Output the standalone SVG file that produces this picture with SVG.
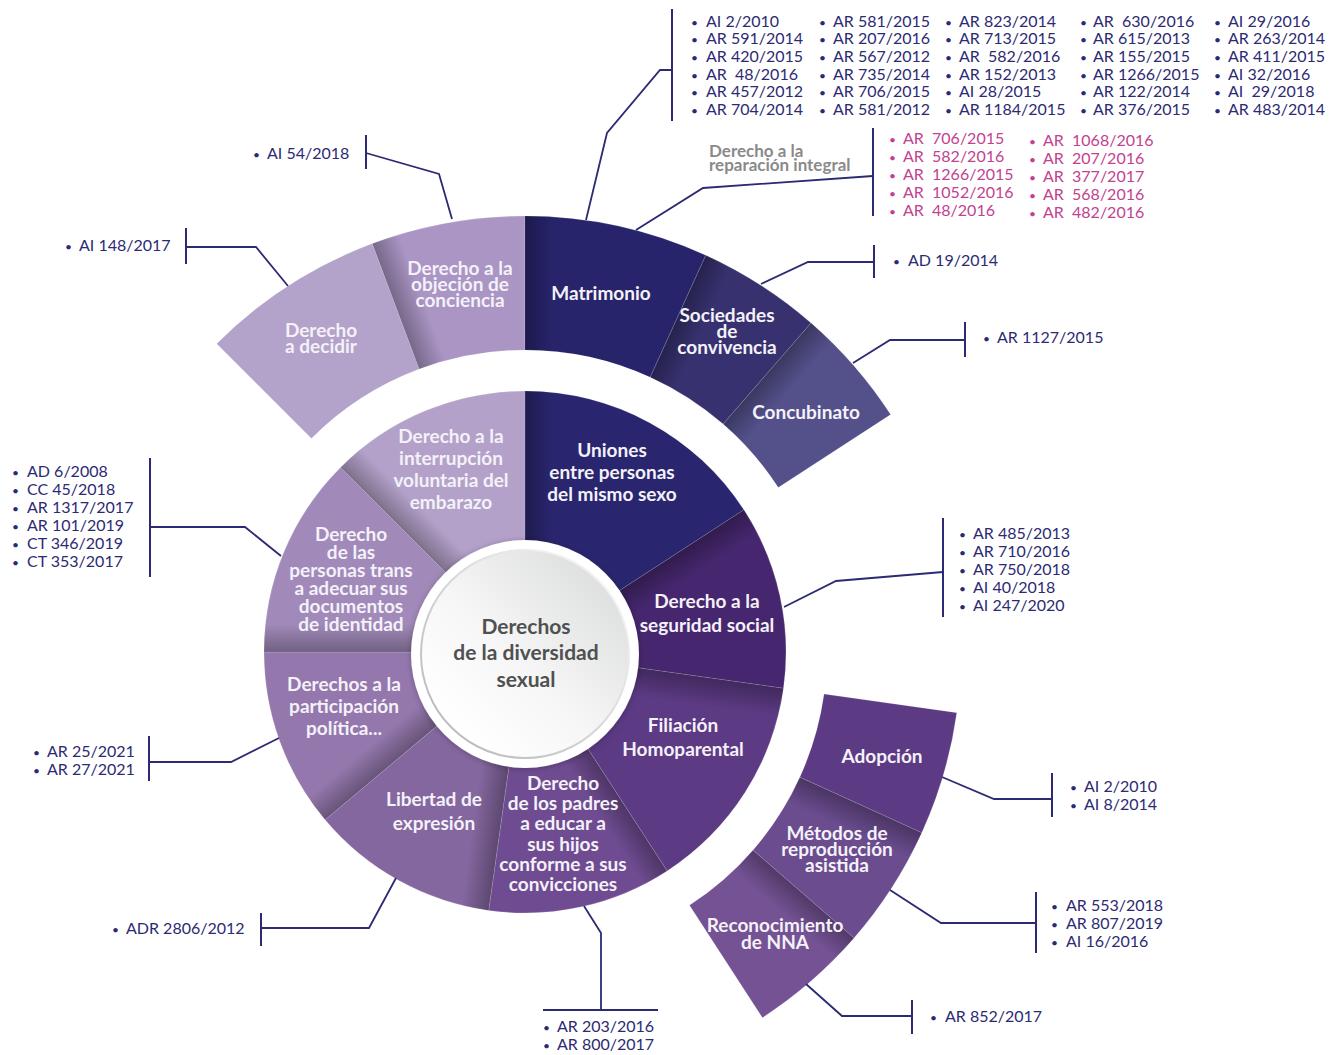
<svg xmlns="http://www.w3.org/2000/svg" width="1339" height="1055" viewBox="0 0 1339 1055">
  <style>
    .lbl { font-family: Lato, "Liberation Sans", sans-serif; font-weight: 700; font-size: 19px; fill: #f4f1f8; text-anchor: middle; }
    .ctr { font-family: Lato, "Liberation Sans", sans-serif; font-weight: 700; font-size: 21px; fill: #505050; text-anchor: middle; }
    .ref { font-family: Lato, "Liberation Sans", sans-serif; font-size: 16px; fill: #2c2a73; }
    .pink { fill: #c2428f; }
    .gray { font-family: Lato, "Liberation Sans", sans-serif; font-weight: 700; font-size: 17px; fill: #8a8a8a; }
    .b { font-size: 12px; }
    .link { fill: none; stroke: #2c2a73; stroke-width: 1.8; }
    .tick { stroke: #2c2a73; stroke-width: 2; }
    .seg { stroke: #ffffff; stroke-opacity: 0.22; stroke-width: 0.7; }
  </style>
  <defs>
    <!-- soft shade cast along the leading (counter-clockwise) edge of a sector -->
    <linearGradient id="shade" gradientUnits="userSpaceOnUse" x1="525" y1="0" x2="553" y2="0">
      <stop offset="0" stop-color="#000" stop-opacity="0.3"/>
      <stop offset="1" stop-color="#000" stop-opacity="0"/>
    </linearGradient>
    <linearGradient id="discFill" x1="0.15" y1="0.85" x2="0.85" y2="0.15">
      <stop offset="0" stop-color="#ffffff"/>
      <stop offset="0.45" stop-color="#f6f6f6"/>
      <stop offset="1" stop-color="#dfe0e0"/>
    </linearGradient>
    <linearGradient id="discRim" x1="0.15" y1="0.85" x2="0.85" y2="0.15">
      <stop offset="0" stop-color="#bdbdbd"/>
      <stop offset="1" stop-color="#f2f2f2"/>
    </linearGradient>
    <clipPath id="clipInner"><circle cx="525" cy="652" r="261"/></clipPath>
    <clipPath id="clipOuter">
      <path clip-rule="evenodd" d="M89,652 A436,436 0 1 1 961,652 A436,436 0 1 1 89,652 Z M223,652 A302,302 0 1 0 827,652 A302,302 0 1 0 223,652 Z"/>
    </clipPath>
    <filter id="lift" x="-20%" y="-20%" width="140%" height="140%">
      <feDropShadow dx="0" dy="1" stdDeviation="3" flood-color="#000" flood-opacity="0.25"/>
    </filter>
  </defs>

  <!-- inner ring -->
  <g id="inner-ring">
    <g id="n-uniones"><path class="seg" fill="#29266f" d="M525,652 L525,391 A261,261 0 0 1 743.9,509.86 Z"/></g>
    <g id="n-seguridad"><path class="seg" fill="#46276f" d="M525,652 L743.9,509.86 A261,261 0 0 1 783.47,688.33 Z"/></g>
    <g id="n-filiacion"><path class="seg" fill="#5c3a84" d="M525,652 L783.47,688.33 A261,261 0 0 1 667.14,870.9 Z"/></g>
    <g id="n-padres"><path class="seg" fill="#6f4c92" d="M525,652 L667.14,870.9 A261,261 0 0 1 488.67,910.47 Z"/></g>
    <g id="n-libertad"><path class="seg" fill="#8567a0" d="M525,652 L488.67,910.47 A261,261 0 0 1 325.07,819.77 Z"/></g>
    <g id="n-participacion"><path class="seg" fill="#9478ad" d="M525,652 L325.07,819.77 A261,261 0 0 1 264,652 Z"/></g>
    <g id="n-trans"><path class="seg" fill="#a18aba" d="M525,652 L264,652 A261,261 0 0 1 340.45,467.45 Z"/></g>
    <g id="n-interrupcion"><path class="seg" fill="#b3a1c9" d="M525,652 L340.45,467.45 A261,261 0 0 1 525,391 Z"/></g>
    <g clip-path="url(#clipInner)">
      <rect x="525" y="391" width="28" height="261" fill="url(#shade)" transform="rotate(0 525 652)"/>
      <rect x="525" y="391" width="28" height="261" fill="url(#shade)" transform="rotate(57 525 652)"/>
      <rect x="525" y="391" width="28" height="261" fill="url(#shade)" transform="rotate(98 525 652)"/>
      <rect x="525" y="391" width="28" height="261" fill="url(#shade)" transform="rotate(147 525 652)"/>
      <rect x="525" y="391" width="28" height="261" fill="url(#shade)" transform="rotate(188 525 652)"/>
      <rect x="525" y="391" width="28" height="261" fill="url(#shade)" transform="rotate(230 525 652)"/>
      <rect x="525" y="391" width="28" height="261" fill="url(#shade)" transform="rotate(270 525 652)"/>
      <rect x="525" y="391" width="28" height="261" fill="url(#shade)" transform="rotate(315 525 652)"/>
    </g>
  </g>

  <!-- outer ring, upper arc -->
  <g id="outer-upper">
    <g id="n-decidir"><path class="seg" fill="#b3a2c9" d="M216.7,343.7 A436,436 0 0 1 372.31,243.6 L419.24,369.12 A302,302 0 0 0 311.46,438.46 Z"/></g>
    <g id="n-objecion"><path class="seg" fill="#aa95c4" d="M372.31,243.6 A436,436 0 0 1 525,216 L525,350 A302,302 0 0 0 419.24,369.12 Z"/></g>
    <g id="n-matrimonio"><path class="seg" fill="#27246c" d="M525,216 A436,436 0 0 1 705.81,255.24 L650.24,377.18 A302,302 0 0 0 525,350 Z"/></g>
    <g id="n-sociedades"><path class="seg" fill="#37316f" d="M705.81,255.24 A436,436 0 0 1 811.06,322.95 L723.14,424.08 A302,302 0 0 0 650.24,377.18 Z"/></g>
    <g id="n-concubinato"><path class="seg" fill="#53508a" d="M811.06,322.95 A436,436 0 0 1 890.67,414.55 L778.29,487.53 A302,302 0 0 0 723.14,424.08 Z"/></g>
  </g>

  <!-- outer ring, lower arc -->
  <g id="outer-lower">
    <g id="n-adopcion"><path class="seg" fill="#5c3a84" d="M956.77,712.69 A436,436 0 0 1 921.76,832.81 L799.82,777.24 A302,302 0 0 0 824.07,694.04 Z"/></g>
    <g id="n-metodos"><path class="seg" fill="#6a4c8f" d="M921.76,832.81 A436,436 0 0 1 854.05,938.06 L752.92,850.14 A302,302 0 0 0 799.82,777.24 Z"/></g>
    <g id="n-reconocimiento"><path class="seg" fill="#745294" d="M854.05,938.06 A436,436 0 0 1 762.45,1017.67 L689.47,905.29 A302,302 0 0 0 752.92,850.14 Z"/></g>
  </g>

  <g clip-path="url(#clipOuter)">
    <rect x="525" y="216" width="28" height="134" fill="url(#shade)" transform="rotate(339.5 525 652)"/>
    <rect x="525" y="216" width="28" height="134" fill="url(#shade)" transform="rotate(0 525 652)"/>
    <rect x="525" y="216" width="28" height="134" fill="url(#shade)" transform="rotate(24.5 525 652)"/>
    <rect x="525" y="216" width="28" height="134" fill="url(#shade)" transform="rotate(41 525 652)"/>
    <rect x="525" y="216" width="28" height="134" fill="url(#shade)" transform="rotate(114.5 525 652)"/>
    <rect x="525" y="216" width="28" height="134" fill="url(#shade)" transform="rotate(131 525 652)"/>
  </g>

  <!-- hub -->
  <g id="n-centro">
    <circle cx="525" cy="654" r="114" fill="#ffffff" filter="url(#lift)"/>
    <circle cx="525" cy="654" r="104" fill="url(#discFill)" stroke="url(#discRim)" stroke-width="2"/>
    <text class="ctr" x="526" y="634">Derechos</text>
    <text class="ctr" x="526" y="660">de la diversidad</text>
    <text class="ctr" x="526" y="687">sexual</text>
  </g>

  <!-- sector labels -->
  <g id="labels">
    <text class="lbl" x="321"><tspan x="321" y="337">Derecho</tspan><tspan x="321" y="353">a decidir</tspan></text>
    <text class="lbl"><tspan x="460" y="275">Derecho a la</tspan><tspan x="460" y="291">objeción de</tspan><tspan x="460" y="307">conciencia</tspan></text>
    <text class="lbl" x="601" y="300">Matrimonio</text>
    <text class="lbl"><tspan x="727" y="322">Sociedades</tspan><tspan x="727" y="338">de</tspan><tspan x="727" y="354">convivencia</tspan></text>
    <text class="lbl" x="806" y="419">Concubinato</text>
    <text class="lbl"><tspan x="612" y="457">Uniones</tspan><tspan x="612" y="479">entre personas</tspan><tspan x="612" y="501">del mismo sexo</tspan></text>
    <text class="lbl"><tspan x="451" y="443">Derecho a la</tspan><tspan x="451" y="465">interrupción</tspan><tspan x="451" y="487">voluntaria del</tspan><tspan x="451" y="509">embarazo</tspan></text>
    <text class="lbl"><tspan x="351" y="541">Derecho</tspan><tspan x="351" y="559">de las</tspan><tspan x="351" y="577">personas trans</tspan><tspan x="351" y="595">a adecuar sus</tspan><tspan x="351" y="613">documentos</tspan><tspan x="351" y="631">de identidad</tspan></text>
    <text class="lbl"><tspan x="707" y="608">Derecho a la</tspan><tspan x="707" y="632">seguridad social</tspan></text>
    <text class="lbl"><tspan x="683" y="732">Filiación</tspan><tspan x="683" y="756">Homoparental</tspan></text>
    <text class="lbl"><tspan x="344" y="691">Derechos a la</tspan><tspan x="344" y="713">participación</tspan><tspan x="344" y="735">política...</tspan></text>
    <text class="lbl"><tspan x="434" y="806">Libertad de</tspan><tspan x="434" y="830">expresión</tspan></text>
    <text class="lbl"><tspan x="563" y="790">Derecho</tspan><tspan x="563" y="810">de los padres</tspan><tspan x="563" y="830">a educar a</tspan><tspan x="563" y="851">sus hijos</tspan><tspan x="563" y="871">conforme a sus</tspan><tspan x="563" y="891">convicciones</tspan></text>
    <text class="lbl" x="882" y="763">Adopción</text>
    <text class="lbl"><tspan x="837" y="840">Métodos de</tspan><tspan x="837" y="856">reproducción</tspan><tspan x="837" y="872">asistida</tspan></text>
    <text class="lbl"><tspan x="775" y="932">Reconocimiento</tspan><tspan x="775" y="949">de NNA</tspan></text>
  </g>

  <!-- connectors and brackets -->
  <g id="connectors">
    <polyline class="link" points="586,220 607,133 660,70 672,70"/>
    <line class="tick" x1="672" y1="9" x2="672" y2="121"/>
    <polyline class="link" points="636,230 703,188 873,176"/>
    <line class="tick" x1="873" y1="128" x2="873" y2="216"/>
    <polyline class="link" points="761,284 808,262 874,262"/>
    <line class="tick" x1="874" y1="245" x2="874" y2="278"/>
    <polyline class="link" points="853,363 890,340 965,340"/>
    <line class="tick" x1="965" y1="322" x2="965" y2="357"/>
    <polyline class="link" points="452,219 439,174 366,153"/>
    <line class="tick" x1="366" y1="135" x2="366" y2="169"/>
    <polyline class="link" points="288,286 256,247 186,247"/>
    <line class="tick" x1="186" y1="228" x2="186" y2="264"/>
    <polyline class="link" points="281,556 245,527 150,527"/>
    <line class="tick" x1="150" y1="458" x2="150" y2="577"/>
    <polyline class="link" points="279,738 231,762 149,762"/>
    <line class="tick" x1="149" y1="736" x2="149" y2="781"/>
    <polyline class="link" points="396,878 369,928 261,928"/>
    <line class="tick" x1="261" y1="913" x2="261" y2="946"/>
    <polyline class="link" points="584,906 601,933 601,1010"/>
    <line class="tick" x1="543" y1="1010" x2="658" y2="1010"/>
    <polyline class="link" points="784,607 836,581 943,572"/>
    <line class="tick" x1="943" y1="518" x2="943" y2="617"/>
    <polyline class="link" points="942,777 994,799 1052,799"/>
    <line class="tick" x1="1052" y1="773" x2="1052" y2="817"/>
    <polyline class="link" points="890,890 941,923 1036,923"/>
    <line class="tick" x1="1036" y1="892" x2="1036" y2="953"/>
    <polyline class="link" points="806,984 842,1016 912,1016"/>
    <line class="tick" x1="912" y1="1000" x2="912" y2="1034"/>
  </g>

  <!-- case references -->
  <g id="refs-matrimonio" class="ref">
    <text y="26.5"><tspan class="b" x="691">•</tspan><tspan x="706">AI 2/2010</tspan><tspan class="b" x="819">•</tspan><tspan x="833">AR 581/2015</tspan><tspan class="b" x="945">•</tspan><tspan x="959">AR 823/2014</tspan><tspan class="b" x="1080">•</tspan><tspan x="1093">AR &#160;630/2016</tspan><tspan class="b" x="1214">•</tspan><tspan x="1228">AI 29/2016</tspan></text>
    <text y="44.2"><tspan class="b" x="691">•</tspan><tspan x="706">AR 591/2014</tspan><tspan class="b" x="819">•</tspan><tspan x="833">AR 207/2016</tspan><tspan class="b" x="945">•</tspan><tspan x="959">AR 713/2015</tspan><tspan class="b" x="1080">•</tspan><tspan x="1093">AR 615/2013</tspan><tspan class="b" x="1214">•</tspan><tspan x="1228">AR 263/2014</tspan></text>
    <text y="61.9"><tspan class="b" x="691">•</tspan><tspan x="706">AR 420/2015</tspan><tspan class="b" x="819">•</tspan><tspan x="833">AR 567/2012</tspan><tspan class="b" x="945">•</tspan><tspan x="959">AR &#160;582/2016</tspan><tspan class="b" x="1080">•</tspan><tspan x="1093">AR 155/2015</tspan><tspan class="b" x="1214">•</tspan><tspan x="1228">AR 411/2015</tspan></text>
    <text y="79.6"><tspan class="b" x="691">•</tspan><tspan x="706">AR &#160;48/2016</tspan><tspan class="b" x="819">•</tspan><tspan x="833">AR 735/2014</tspan><tspan class="b" x="945">•</tspan><tspan x="959">AR 152/2013</tspan><tspan class="b" x="1080">•</tspan><tspan x="1093">AR 1266/2015</tspan><tspan class="b" x="1214">•</tspan><tspan x="1228">AI 32/2016</tspan></text>
    <text y="97.3"><tspan class="b" x="691">•</tspan><tspan x="706">AR 457/2012</tspan><tspan class="b" x="819">•</tspan><tspan x="833">AR 706/2015</tspan><tspan class="b" x="945">•</tspan><tspan x="959">AI 28/2015</tspan><tspan class="b" x="1080">•</tspan><tspan x="1093">AR 122/2014</tspan><tspan class="b" x="1214">•</tspan><tspan x="1228">AI &#160;29/2018</tspan></text>
    <text y="115"><tspan class="b" x="691">•</tspan><tspan x="706">AR 704/2014</tspan><tspan class="b" x="819">•</tspan><tspan x="833">AR 581/2012</tspan><tspan class="b" x="945">•</tspan><tspan x="959">AR 1184/2015</tspan><tspan class="b" x="1080">•</tspan><tspan x="1093">AR 376/2015</tspan><tspan class="b" x="1214">•</tspan><tspan x="1228">AR 483/2014</tspan></text>
  </g>

  <g id="refs-reparacion">
    <text class="gray"><tspan x="709" y="157">Derecho a la</tspan><tspan x="709" y="171">reparación integral</tspan></text>
    <g class="ref pink">
      <text y="144"><tspan class="b" x="889">•</tspan><tspan x="903">AR &#160;706/2015</tspan><tspan class="b" x="1029" dy="2">•</tspan><tspan x="1043">AR &#160;1068/2016</tspan></text>
      <text y="162"><tspan class="b" x="889">•</tspan><tspan x="903">AR &#160;582/2016</tspan><tspan class="b" x="1029" dy="2">•</tspan><tspan x="1043">AR &#160;207/2016</tspan></text>
      <text y="180"><tspan class="b" x="889">•</tspan><tspan x="903">AR &#160;1266/2015</tspan><tspan class="b" x="1029" dy="2">•</tspan><tspan x="1043">AR &#160;377/2017</tspan></text>
      <text y="198"><tspan class="b" x="889">•</tspan><tspan x="903">AR &#160;1052/2016</tspan><tspan class="b" x="1029" dy="2">•</tspan><tspan x="1043">AR &#160;568/2016</tspan></text>
      <text y="216"><tspan class="b" x="889">•</tspan><tspan x="903">AR &#160;48/2016</tspan><tspan class="b" x="1029" dy="2">•</tspan><tspan x="1043">AR &#160;482/2016</tspan></text>
    </g>
  </g>

  <g id="refs-sociedades" class="ref"><text y="266"><tspan class="b" x="893">•</tspan><tspan x="908">AD 19/2014</tspan></text></g>
  <g id="refs-concubinato" class="ref"><text y="343"><tspan class="b" x="983">•</tspan><tspan x="997">AR 1127/2015</tspan></text></g>
  <g id="refs-objecion" class="ref"><text y="159"><tspan class="b" x="253">•</tspan><tspan x="267">AI 54/2018</tspan></text></g>
  <g id="refs-decidir" class="ref"><text y="251"><tspan class="b" x="65">•</tspan><tspan x="79">AI 148/2017</tspan></text></g>

  <g id="refs-trans" class="ref">
    <text y="477"><tspan class="b" x="12">•</tspan><tspan x="27">AD 6/2008</tspan></text>
    <text y="495"><tspan class="b" x="12">•</tspan><tspan x="27">CC 45/2018</tspan></text>
    <text y="513"><tspan class="b" x="12">•</tspan><tspan x="27">AR 1317/2017</tspan></text>
    <text y="531"><tspan class="b" x="12">•</tspan><tspan x="27">AR 101/2019</tspan></text>
    <text y="549"><tspan class="b" x="12">•</tspan><tspan x="27">CT 346/2019</tspan></text>
    <text y="567"><tspan class="b" x="12">•</tspan><tspan x="27">CT 353/2017</tspan></text>
  </g>

  <g id="refs-seguridad" class="ref">
    <text y="539"><tspan class="b" x="959">•</tspan><tspan x="973">AR 485/2013</tspan></text>
    <text y="557"><tspan class="b" x="959">•</tspan><tspan x="973">AR 710/2016</tspan></text>
    <text y="575"><tspan class="b" x="959">•</tspan><tspan x="973">AR 750/2018</tspan></text>
    <text y="593"><tspan class="b" x="959">•</tspan><tspan x="973">AI 40/2018</tspan></text>
    <text y="611"><tspan class="b" x="959">•</tspan><tspan x="973">AI 247/2020</tspan></text>
  </g>

  <g id="refs-participacion" class="ref">
    <text y="757"><tspan class="b" x="33">•</tspan><tspan x="47">AR 25/2021</tspan></text>
    <text y="775"><tspan class="b" x="33">•</tspan><tspan x="47">AR 27/2021</tspan></text>
  </g>

  <g id="refs-libertad" class="ref"><text y="934"><tspan class="b" x="112">•</tspan><tspan x="126">ADR 2806/2012</tspan></text></g>

  <g id="refs-padres" class="ref">
    <text y="1032"><tspan class="b" x="543">•</tspan><tspan x="557">AR 203/2016</tspan></text>
    <text y="1050"><tspan class="b" x="543">•</tspan><tspan x="557">AR 800/2017</tspan></text>
  </g>

  <g id="refs-adopcion" class="ref">
    <text y="792"><tspan class="b" x="1070">•</tspan><tspan x="1084">AI 2/2010</tspan></text>
    <text y="810"><tspan class="b" x="1070">•</tspan><tspan x="1084">AI 8/2014</tspan></text>
  </g>

  <g id="refs-metodos" class="ref">
    <text y="911"><tspan class="b" x="1051">•</tspan><tspan x="1066">AR 553/2018</tspan></text>
    <text y="929"><tspan class="b" x="1051">•</tspan><tspan x="1066">AR 807/2019</tspan></text>
    <text y="947"><tspan class="b" x="1051">•</tspan><tspan x="1066">AI 16/2016</tspan></text>
  </g>

  <g id="refs-reconocimiento" class="ref"><text y="1022"><tspan class="b" x="930">•</tspan><tspan x="945">AR 852/2017</tspan></text></g>
</svg>
